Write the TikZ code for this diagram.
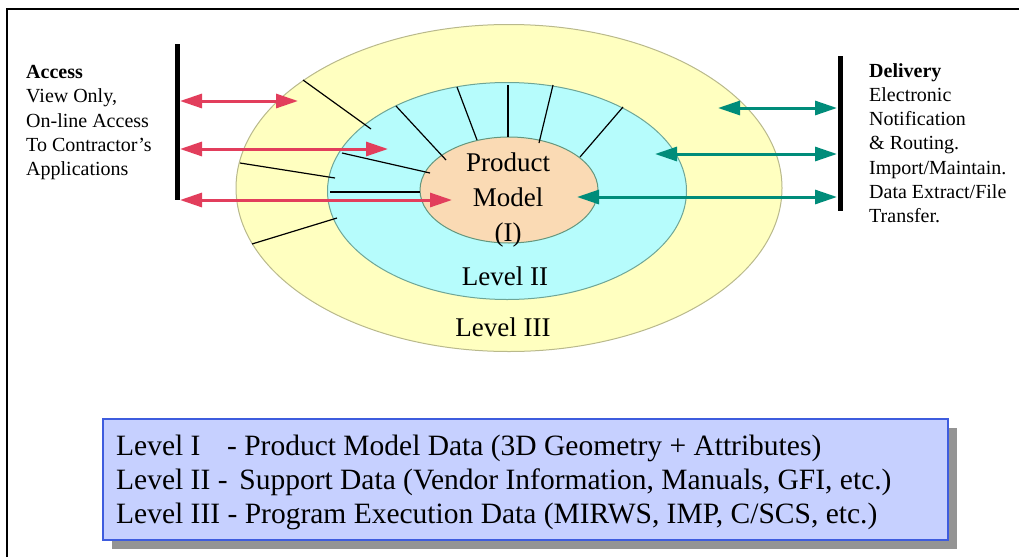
\documentclass[tikz,border=0pt]{standalone}
\usepackage{fontspec}
\setmainfont{Liberation Serif}
\usetikzlibrary{arrows.meta,shapes.geometric,shadows}

\definecolor{levelthree}{RGB}{255,255,192}
\definecolor{levelthreeline}{RGB}{185,185,140}
\definecolor{leveltwo}{RGB}{182,252,252}
\definecolor{leveltwoline}{RGB}{110,165,150}
\definecolor{levelone}{RGB}{250,218,180}
\definecolor{levelonline}{RGB}{100,150,125}
\definecolor{accessred}{RGB}{226,62,92}
\definecolor{deliveryteal}{RGB}{0,140,122}
\definecolor{legendfill}{RGB}{198,208,255}
\definecolor{legendline}{RGB}{62,92,222}

\tikzset{
    ring/.style={ellipse, inner sep=0pt, line width=1pt},
    bar/.style={line width=5pt},
    tick/.style={line width=1.2pt},
    accessarrow/.style={draw=accessred, line width=3pt,
        {Triangle[length=22pt,width=14pt]}-{Triangle[length=22pt,width=14pt]}},
    deliveryarrow/.style={draw=deliveryteal, line width=3pt,
        {Triangle[length=22pt,width=14pt]}-{Triangle[length=22pt,width=14pt]}},
    sidetext/.style={anchor=north west, align=left, inner sep=0pt,
        font=\fontsize{20}{24.3}\selectfont},
    ringtext/.style={inner sep=0pt, font=\fontsize{27}{35}\selectfont},
    legendbox/.style={draw=legendline, fill=legendfill, line width=1.5pt,
        minimum width=845pt, minimum height=121pt, anchor=north west,
        drop shadow={shadow xshift=9pt, shadow yshift=-9pt, opacity=1, fill=black!42}}
}

\begin{document}
\begin{tikzpicture}[x=1pt, y=-1pt]
    \useasboundingbox (0,0) rectangle (1019,557);
    \draw[line width=2pt] (7,557) -- (7,9) -- (1019,9);

    % the three levels
    \node[ring, draw=levelthreeline, fill=levelthree,
        minimum width=546pt, minimum height=327pt] (lthree) at (509,188) {};
    \node[ring, draw=leveltwoline, fill=leveltwo,
        minimum width=359pt, minimum height=217pt] (ltwo) at (507,191) {};
    \node[ring, draw=levelonline, fill=levelone,
        minimum width=178pt, minimum height=106pt] (lone) at (509,190) {};

    \draw[tick] (303,80) -- (371,129);
    \draw[tick] (240,163) -- (335,178);
    \draw[tick] (252,244) -- (337,218);
    \draw[tick] (396,106) -- (446,160);
    \draw[tick] (457,87) -- (477,140);
    \draw[tick] (508,85) -- (508,137);
    \draw[tick] (553,85) -- (539,143);
    \draw[tick] (623,107) -- (580,157);
    \draw[tick] (342,153) -- (430,173);
    \draw[tick] (330,192) -- (420,192);

    \node[ringtext, align=center, anchor=north] (product) at (508,152.5)
        {Product\\Model\\(I)};
    \node[ringtext, anchor=base] (ltwolabel) at (505,285) {Level II};
    \node[ringtext, anchor=base] (lthreelabel) at (503,336) {Level III};

    % access side
    \coordinate (acctop) at (177,44);
    \coordinate (accbot) at (177,200);
    \draw[bar] (acctop) -- (accbot);
    \coordinate (accA) at (180,101);
    \coordinate (accB) at (180,149);
    \coordinate (accC) at (180,200);
    \coordinate (accAend) at (298,101);
    \coordinate (accBend) at (388,149);
    \coordinate (accCend) at (452,200);
    \draw[accessarrow] (accA) -- (accAend);
    \draw[accessarrow] (accB) -- (accBend);
    \draw[accessarrow] (accC) -- (accCend);
    \node[sidetext] (access) at (26,65)
        {\textbf{Access}\\View Only,\\On-line Access\\To Contractor’s\\Applications};

    % delivery side
    \coordinate (deltop) at (840,56);
    \coordinate (delbot) at (840,211);
    \draw[bar] (deltop) -- (delbot);
    \coordinate (delA) at (837,108);
    \coordinate (delB) at (837,154);
    \coordinate (delC) at (837,197);
    \coordinate (delAend) at (718,108);
    \coordinate (delBend) at (655,154);
    \coordinate (delCend) at (577,197);
    \draw[deliveryarrow] (delAend) -- (delA);
    \draw[deliveryarrow] (delBend) -- (delB);
    \draw[deliveryarrow] (delCend) -- (delC);
    \node[sidetext] (delivery) at (869,63)
        {\textbf{Delivery}\\Electronic\\Notification\\\& Routing.\\Import/Maintain.\\Data Extract/File\\Transfer.};

    % legend
    \node[legendbox] (legend) at (102,418) {};
    \node[anchor=north west, align=left, inner sep=0pt,
        font=\fontsize{29.5}{34}\selectfont] (legendtext) at (116,434.6)
        {Level I\hspace{0.9em}- Product Model Data (3D Geometry + Attributes)\\
         Level II -\hspace{0.4em}Support Data (Vendor Information, Manuals, GFI, etc.)\\
         Level III - Program Execution Data (MIRWS, IMP, C/SCS, etc.)};
\end{tikzpicture}
\end{document}
